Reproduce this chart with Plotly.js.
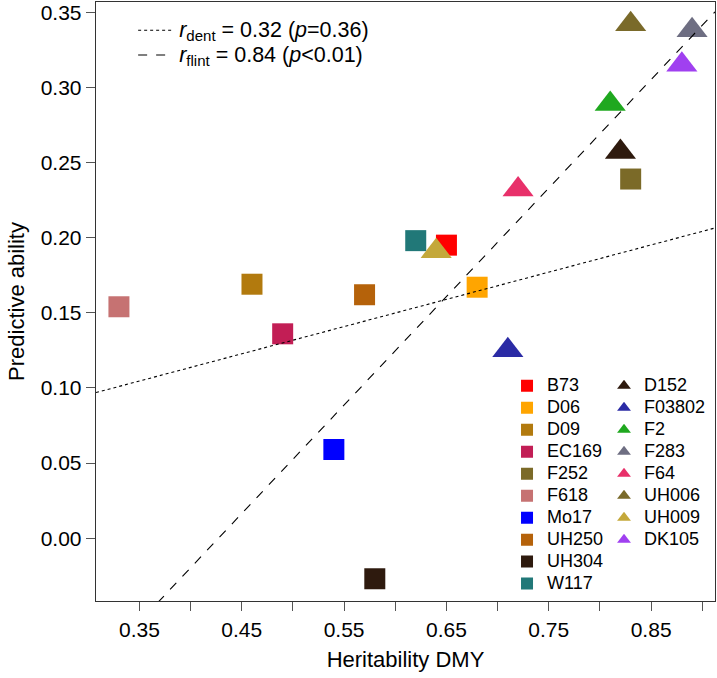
<!DOCTYPE html>
<html>
<head>
<meta charset="utf-8">
<script src="https://cdn.plot.ly/plotly-3.0.1.min.js"></script>
<style>html,body{margin:0;padding:0;background:#fff;}</style>
</head>
<body>
<div id="chart" style="width:717px;height:678px;"></div>
<script>
// ---- data ----
const dentNames  = ['B73','D06','D09','EC169','F252','F618','Mo17','UH250','UH304','W117'];
const dentX      = [0.65, 0.68, 0.46, 0.49, 0.83, 0.33, 0.54, 0.57, 0.58, 0.62];
const dentY      = [0.195, 0.167, 0.169, 0.136, 0.239, 0.154, 0.059, 0.162, -0.027, 0.198];
const dentColors = ['#FF0000','#FFA500','#B27A0E','#C21E55','#7B6A28','#C67272','#0000FF','#B5620A','#2E1A0E','#217878'];

const flintNames  = ['D152','F03802','F2','F283','F64','UH006','UH009','DK105'];
const flintX      = [0.82, 0.71, 0.81, 0.89, 0.72, 0.83, 0.64, 0.88];
const flintY      = [0.257, 0.125, 0.289, 0.338, 0.232, 0.342, 0.191, 0.315];
const flintColors = ['#2E1A0E','#2B2BA5','#1FA81F','#6E6E82','#E8306A','#7A6A2A','#C4A83A','#A040F0'];

// regression lines: y = intercept + slope * x
const lineLabels     = ['<i>r</i><sub>dent</sub> = 0.32 (<i>p</i>=0.36)', '<i>r</i><sub>flint</sub> = 0.84 (<i>p</i>&lt;0.01)'];
const lineIntercepts = [0.0412, -0.3085];
const lineSlopes     = [0.1811, 0.722];
const lineDash       = ['dot', 'dash'];

const xTickVals  = [0.35,0.45,0.55,0.65,0.75,0.85];
const xTickText  = ['0.35','0.45','0.55','0.65','0.75','0.85'];
const xMinorVals = [0.40,0.50,0.60,0.70,0.80,0.90];
const yTickVals  = [0.00,0.05,0.10,0.15,0.20,0.25,0.30,0.35];
const yTickText  = ['0.00','0.05','0.10','0.15','0.20','0.25','0.30','0.35'];

const xRange = [0.3076, 0.9124];
const yRange = [-0.0418, 0.3568];

const FONT = 'Liberation Sans, Arial, sans-serif';
const big = s => '<span style="font-size:18px">' + s + '</span>';

const traces = [];
dentNames.forEach((n, i) => {
  traces.push({
    type: 'scatter', mode: 'markers', name: big(n),
    x: [dentX[i]], y: [dentY[i]],
    marker: {symbol: 'square', size: 21, color: dentColors[i], line: {width: 0}},
    legend: 'legend', hoverinfo: 'x+y'
  });
});
flintNames.forEach((n, i) => {
  traces.push({
    type: 'scatter', mode: 'markers', name: big(n),
    x: [flintX[i]], y: [flintY[i]],
    marker: {symbol: 'triangle-up', size: 27, color: flintColors[i], line: {width: 0}},
    legend: 'legend2', hoverinfo: 'x+y'
  });
});
lineLabels.forEach((lab, i) => {
  traces.push({
    type: 'scatter', mode: 'lines', name: '<span style="font-size:21.5px">' + lab + '</span>',
    x: [xRange[0], xRange[1]],
    y: [lineIntercepts[i] + lineSlopes[i] * xRange[0], lineIntercepts[i] + lineSlopes[i] * xRange[1]],
    line: {color: '#000', width: 1.1, dash: lineDash[i]},
    legend: 'legend3', hoverinfo: 'skip'
  });
});

const axisCommon = {
  showgrid: false, zeroline: false, showline: true, mirror: true,
  linecolor: '#333', linewidth: 1.3,
  ticks: 'outside', ticklen: 9, tickwidth: 1, tickcolor: '#555',
  tickfont: {family: FONT, size: 21, color: '#000'},
  tickmode: 'array'
};

const legendCommon = {
  bgcolor: 'rgba(0,0,0,0)', borderwidth: 0, font: {family: FONT, size: 14.6, color: '#000'},
  itemsizing: 'constant', xanchor: 'left', yanchor: 'top', tracegroupgap: 0
};

const layout = {
  width: 717, height: 678,
  margin: {l: 96, r: 2, t: 2, b: 77},
  paper_bgcolor: '#fff', plot_bgcolor: '#fff',
  showlegend: true,
  xaxis: Object.assign({}, axisCommon, {
    range: xRange, tickvals: xTickVals, ticktext: xTickText,
    minor: {tickmode: 'array', tickvals: xMinorVals, ticks: 'outside', ticklen: 9, tickwidth: 1, tickcolor: '#555', showgrid: false},
    title: {text: 'Heritability DMY', font: {family: FONT, size: 22, color: '#000'}, standoff: 12}
  }),
  yaxis: Object.assign({}, axisCommon, {
    range: yRange, tickvals: yTickVals, ticktext: yTickText,
    title: {text: 'Predictive ability', font: {family: FONT, size: 22, color: '#000'}, standoff: 10}
  }),
  legend: Object.assign({}, legendCommon, {x: 0.664, y: 0.386}),
  legend2: Object.assign({}, legendCommon, {x: 0.8207, y: 0.386}),
  legend3: Object.assign({}, legendCommon, {x: 0.06, y: 0.982, itemsizing: 'trace', itemwidth: 36, font: {family: FONT, size: 16.8, color: '#000'}})
};

Plotly.newPlot('chart', traces, layout, {displayModeBar: false, staticPlot: true});
</script>
</body>
</html>
